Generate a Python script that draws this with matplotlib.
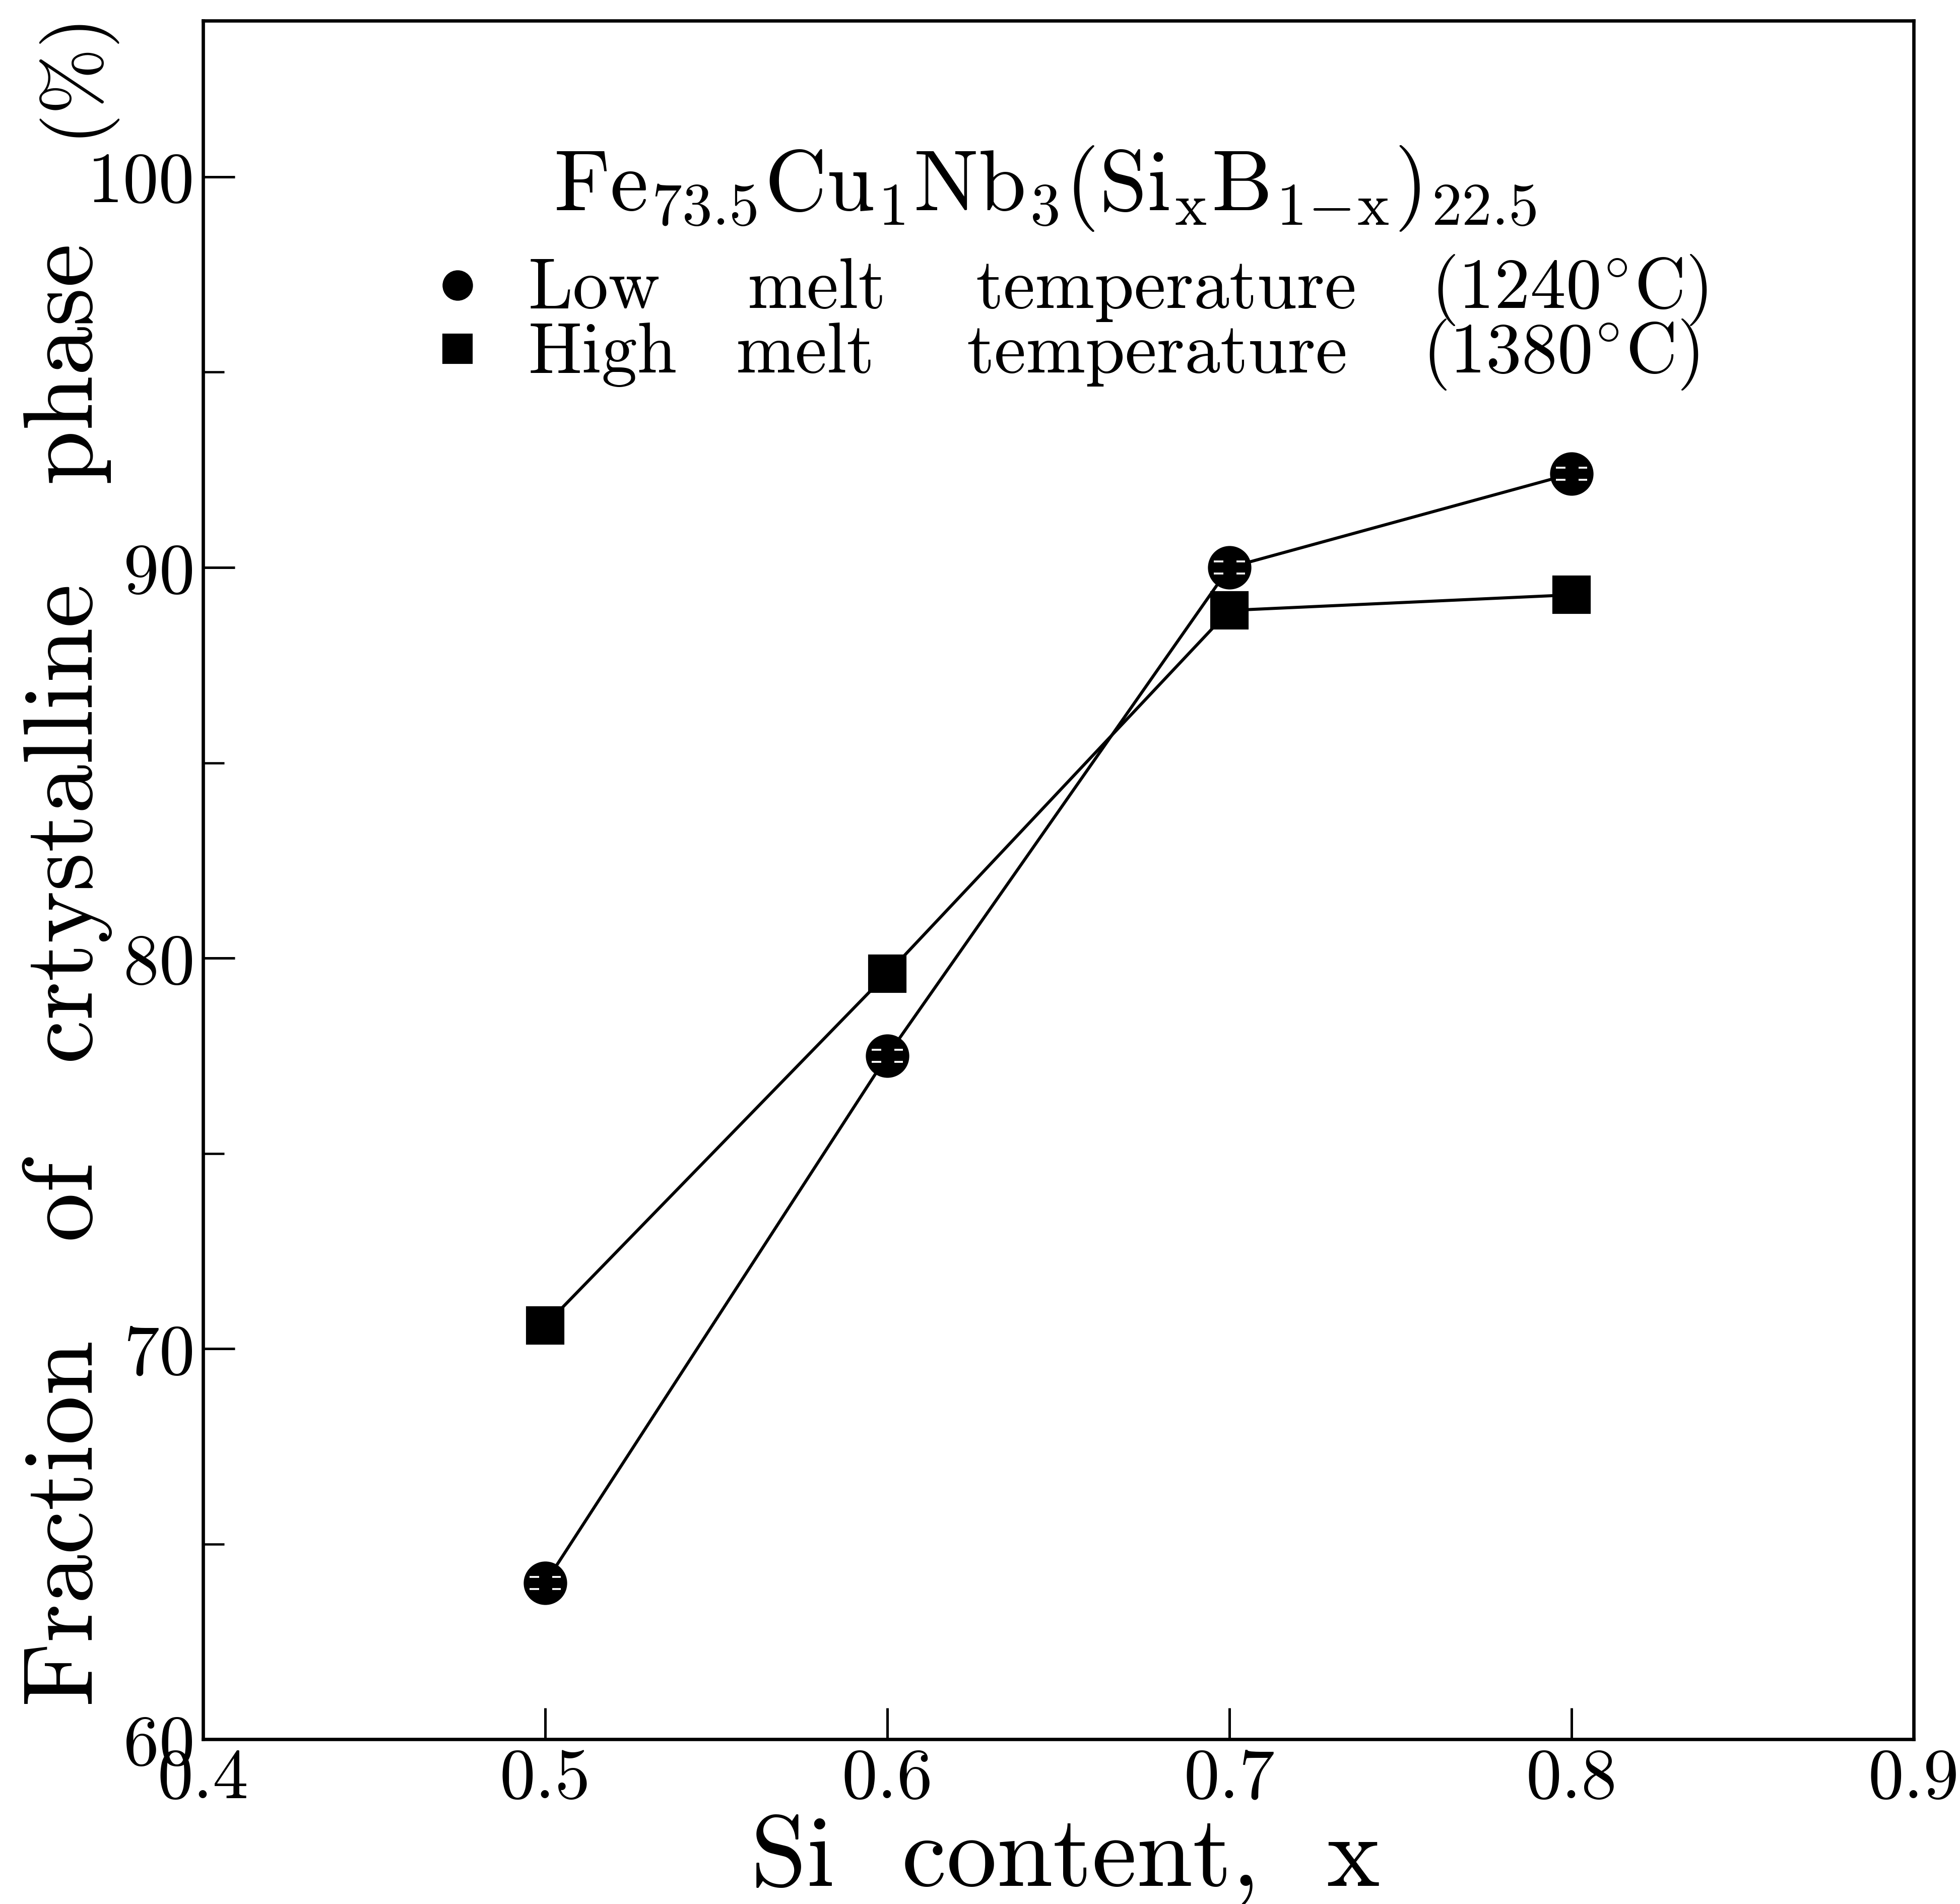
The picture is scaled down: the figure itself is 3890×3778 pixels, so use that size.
import numpy as np
import matplotlib
matplotlib.use("Agg")
import matplotlib.pyplot as plt
from matplotlib.path import Path

# Computer Modern look for every text in the figure
plt.rcParams['font.family'] = 'cmr10'
plt.rcParams['mathtext.fontset'] = 'cm'
plt.rcParams['axes.formatter.use_mathtext'] = True
plt.rcParams['axes.unicode_minus'] = False

# data
si_x = [0.5, 0.6, 0.7, 0.8]
frac_low = [64.0, 77.5, 90.0, 92.4]     # low melt temperature (1240 C)
frac_high = [70.6, 79.6, 88.9, 89.3]    # high melt temperature (1380 C)

x_ticks = [0.4, 0.5, 0.6, 0.7, 0.8, 0.9]
x_ticklabels = ['0.4', '0.5', '0.6', '0.7', '0.8', '0.9']
y_ticks = [60, 70, 80, 90, 100]
y_ticklabels = ['60', '70', '80', '90', '100']
y_minor = [65, 75, 85, 95]

title_txt = r"Fe$_{73.5}$Cu$_{1}$Nb$_{3}$(Si$_{\mathrm{x}}$B$_{\mathrm{1\!-\!x}}$)$_{22.5}$"
low_words = ["Low", "melt", "temperature", r"(1240$^{\circ}$C)"]
high_words = ["High", "melt", "temperature", r"(1380$^{\circ}$C)"]

fig = plt.figure(figsize=(3890 / 300, 3779 / 300), dpi=300)
ax = fig.add_axes([0.1036, 0.0865, 0.8727, 0.9024])

ax.set_xlim(0.4, 0.9)
ax.set_ylim(60, 104)

lw = 1.45
ax.plot(si_x, frac_high, color='black', lw=lw, marker='s', ms=17.3, zorder=3)
ax.plot(si_x, frac_low, color='black', lw=lw, marker='o', ms=19.7, zorder=4)

# little white dashes inside the round markers
dash = Path([(-0.75, 0.3), (-0.3, 0.3), (0.35, 0.3), (0.75, 0.3),
             (-0.75, -0.3), (-0.3, -0.3), (0.35, -0.3), (0.75, -0.3)],
            [Path.MOVETO, Path.LINETO] * 4)
ax.plot(si_x, frac_low, linestyle='none', marker=dash, ms=0.75 * 19.7,
        mfc='none', mec='white', mew=0.9, zorder=5)

# axes frame and ticks
for sp in ax.spines.values():
    sp.set_linewidth(1.6)
ax.set_xticks(x_ticks)
ax.set_xticklabels(x_ticklabels)
ax.set_yticks(y_ticks)
ax.set_yticklabels(y_ticklabels)
ax.set_yticks(y_minor, minor=True)
ax.tick_params(axis='both', which='major', direction='in', length=15, width=1.2,
               labelsize=34, top=False, right=False)
ax.tick_params(axis='x', which='major', pad=4)
ax.tick_params(axis='y', which='major', pad=4)
ax.tick_params(axis='y', which='minor', direction='in', length=10, width=1.1, right=False)
ax.tick_params(axis='x', which='minor', bottom=False, top=False)

ax.set_xlabel("Si  content,  x", fontsize=48)
ax.xaxis.set_label_coords(0.504, -0.043)
ax.set_ylabel("Fraction   of   crtystalline   phase", fontsize=47)
ax.yaxis.set_label_coords(-0.053, 0.445)
# unit of the y label, set a little smaller at the top end
ax.text(-0.053, 0.970, "(%)", transform=ax.transAxes, fontsize=38, rotation=90,
        rotation_mode='anchor', ha='center', va='bottom')

# composition heading and key
ax.text(0.205, 0.8900, title_txt, transform=ax.transAxes, fontsize=41,
        ha='left', va='baseline')

# each key row: marker, words, word anchors (first one left, rest centred), baseline, marker height
key_rows = [('o', low_words, [0.1903, 0.3588, 0.5629, 0.7988], 0.8331, 0.8460),
            ('s', high_words, [0.1903, 0.3520, 0.5576, 0.7938], 0.7956, 0.8091)]
for mk, words, xs, base, mark_y in key_rows:
    ax.plot([0.1487], [mark_y], transform=ax.transAxes, linestyle='none',
            marker=mk, ms=13.5, color='black', clip_on=False)
    for i, (w, xw) in enumerate(zip(words, xs)):
        ax.text(xw, base, w, transform=ax.transAxes, fontsize=34,
                ha='left' if i == 0 else 'center', va='baseline')

fig.savefig("out.png", dpi=300)
